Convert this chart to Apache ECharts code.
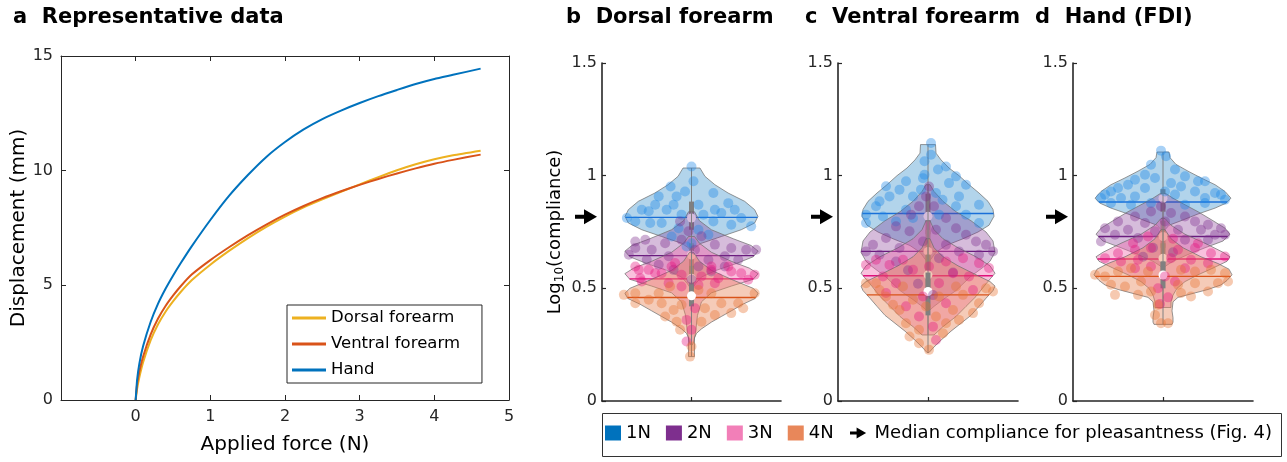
<!DOCTYPE html>
<html><head><meta charset="utf-8">
<script src="https://cdn.jsdelivr.net/npm/echarts@6/dist/echarts.min.js"></script>
<style>html,body{margin:0;padding:0;background:#fff}#c{width:1287px;height:462px}</style>
</head><body><div id="c"></div><script>
const FONT = '"DejaVu Sans", "Liberation Sans", Arial, sans-serif';

// ---------- Panel a: representative force-displacement curves ----------
const forceN    = [0, 0.02, 0.05, 0.1, 0.2, 0.3, 0.4, 0.5, 0.6, 0.75, 1.0, 1.25, 1.5, 1.75, 2.0, 2.25, 2.5, 2.75, 3.0, 3.25, 3.5, 3.75, 4.0, 4.25, 4.62];
const dorsalMm  = [0, 0.5, 1.0, 1.65, 2.6, 3.3, 3.85, 4.3, 4.7, 5.22, 5.9, 6.5, 7.05, 7.55, 8.0, 8.4, 8.75, 9.08, 9.4, 9.72, 10.02, 10.28, 10.5, 10.67, 10.87];
const ventralMm = [0, 0.7, 1.25, 1.9, 2.85, 3.55, 4.1, 4.55, 4.95, 5.47, 6.1, 6.66, 7.18, 7.65, 8.08, 8.46, 8.8, 9.1, 9.38, 9.64, 9.88, 10.1, 10.3, 10.47, 10.7];
const handMm    = [0, 0.9, 1.6, 2.35, 3.4, 4.2, 4.85, 5.42, 5.95, 6.7, 7.85, 8.9, 9.8, 10.6, 11.25, 11.8, 12.25, 12.62, 12.95, 13.25, 13.52, 13.78, 14.0, 14.18, 14.45];
const curveNames = ['Dorsal forearm', 'Ventral forearm', 'Hand'];

// ---------- Violin panels: groups ----------
const groupNames = ['1N', '2N', '3N', '4N'];
const pleasantMedian = 0.818; // median compliance for pleasantness (Fig. 4)

// violin outlines: [log10 compliance, half width]
const dorsal1N = [[1.034,8.5],[0.997,13.5],[0.96,23.5],[0.923,36.8],[0.886,53.5],[0.849,63.5],[0.819,66.8],[0.79,63.5],[0.76,50],[0.73,30],[0.70,10],[0.68,3],[0.665,1]];
const dorsal2N = [[0.84,3],[0.80,8],[0.76,20],[0.72,42],[0.69,60],[0.665,67],[0.64,62],[0.61,45],[0.58,25],[0.55,10],[0.52,4],[0.50,1]];
const dorsal3N = [[0.73,3],[0.70,8],[0.66,20],[0.62,40],[0.59,58],[0.565,67],[0.54,62],[0.51,40],[0.48,20],[0.44,10],[0.38,6],[0.30,4],[0.26,2],[0.25,1]];
const dorsal4N = [[0.66,2],[0.62,8],[0.58,20],[0.54,40],[0.50,62],[0.478,67],[0.455,64],[0.43,52],[0.40,40],[0.375,30],[0.35,20],[0.32,10],[0.30,5],[0.28,3],[0.197,3]];

const ventral1N = [[1.138,7.5],[1.10,8],[1.07,13],[1.034,21],[1.0,31],[0.96,41],[0.923,51],[0.886,60],[0.85,65],[0.82,66],[0.78,61],[0.75,50],[0.72,35],[0.69,18],[0.66,8],[0.63,3],[0.62,1]];
const ventral2N = [[0.96,2],[0.93,6],[0.886,15],[0.84,28],[0.80,43],[0.75,58],[0.71,65],[0.66,67],[0.62,62],[0.60,57],[0.55,42],[0.49,28],[0.45,15],[0.42,6],[0.40,1]];
const ventral3N = [[0.80,2],[0.76,6],[0.72,15],[0.68,30],[0.64,48],[0.60,62],[0.567,67],[0.52,58],[0.464,48],[0.42,38],[0.375,28],[0.33,15],[0.293,6]];
const ventral4N = [[0.72,2],[0.68,6],[0.64,15],[0.60,30],[0.56,48],[0.53,62],[0.51,67],[0.49,65],[0.456,58],[0.42,51],[0.38,43],[0.345,33],[0.31,23],[0.27,13],[0.235,5],[0.215,1]];

const hand1N = [[1.105,6],[1.08,7],[1.05,13],[1.02,25],[0.99,38],[0.96,52],[0.93,62],[0.90,68],[0.878,63],[0.856,52],[0.83,35],[0.80,18],[0.78,6],[0.76,2],[0.75,1]];
const hand2N = [[0.92,3],[0.90,10],[0.878,19],[0.84,35],[0.80,50],[0.767,62],[0.74,67],[0.71,60],[0.68,42],[0.65,25],[0.62,10],[0.60,3],[0.59,1]];
const hand3N = [[0.81,2],[0.78,8],[0.74,22],[0.70,42],[0.66,60],[0.64,67],[0.62,64],[0.59,50],[0.56,35],[0.53,22],[0.50,14],[0.47,10],[0.44,8],[0.415,8]];
const hand4N = [[0.76,2],[0.72,8],[0.68,20],[0.64,38],[0.61,55],[0.585,66],[0.56,69],[0.535,64],[0.515,58],[0.495,45],[0.475,28],[0.46,15],[0.44,10],[0.40,9],[0.37,10],[0.35,10],[0.34,9]];

// individual participants: [jitter offset, log10 compliance]
const dorsalPts1N = [[0,1.041],[2,0.975],[-21,0.952],[-6.5,0.93],[22,0.923],[-33,0.908],[-15,0.908],[-36.5,0.871],[-18,0.871],[7,0.871],[37,0.878],[-50,0.849],[-43,0.842],[-25,0.849],[23.5,0.849],[43.5,0.849],[-10,0.827],[12,0.827],[30,0.834],[50,0.812],[-56.5,0.797],[-41.5,0.79],[-30,0.79],[22,0.797],[40,0.782],[60,0.775],[-65,0.812],[7,0.76],[-13,0.767],[-20,0.73],[17,0.738],[0,0.70],[-5,0.686]];
const dorsalPts2N = [[-46.5,0.716],[-56.5,0.679],[-40,0.671],[-26.5,0.70],[-63,0.649],[-45,0.627],[-23,0.642],[23.5,0.694],[40,0.679],[55,0.671],[65,0.671],[33.5,0.642],[17,0.627],[-10,0.716],[10,0.731],[-33,0.605],[47,0.627],[7,0.597],[-18,0.582],[33.5,0.597],[-56.5,0.708],[-3,0.753],[3.5,0.671],[-11.5,0.797],[20,0.575],[0,0.539]];
const dorsalPts3N = [[-56.5,0.597],[-43,0.582],[-30,0.567],[-20,0.597],[-51.5,0.545],[20,0.582],[37,0.597],[50,0.567],[63.5,0.56],[27,0.545],[-10,0.56],[7,0.515],[-53,0.582],[-36.5,0.567],[-16.5,0.612],[20,0.597],[40,0.575],[10,0.553],[57,0.538],[-23,0.523],[-10,0.508],[23.5,0.523],[3.5,0.412],[-5,0.36],[0,0.316],[-5,0.264],[-50,0.53]];
const dorsalPts4N = [[-68,0.471],[-56.5,0.478],[-43,0.449],[-30,0.434],[-18,0.404],[-10,0.427],[-26.5,0.375],[-15,0.352],[-11.5,0.316],[20,0.478],[30,0.434],[47,0.434],[63.5,0.478],[52,0.412],[40,0.39],[23.5,0.382],[10,0.352],[13.5,0.412],[-33,0.478],[-56.5,0.434],[-1.5,0.197],[0,0.242],[7,0.493],[-21.5,0.508]];

const ventralPts1N = [[3,1.145],[3,1.093],[-3.5,1.064],[10,1.027],[18,1.041],[-3.5,1.004],[-22,0.975],[28,0.997],[-42,0.953],[-28.5,0.938],[21,0.967],[38,0.96],[-38.5,0.908],[-15,0.908],[8,0.923],[31,0.908],[14.5,0.893],[-48.5,0.886],[51,0.871],[-52,0.864],[-62,0.827],[-45,0.819],[-22,0.849],[28,0.864],[38,0.827],[51,0.79],[-62,0.79],[-32,0.797],[-5,0.989],[-7,0.938],[11,0.827],[-15,0.812]];
const ventralPts2N = [[1,0.952],[-2,0.908],[-9,0.864],[6,0.864],[-17,0.827],[18,0.812],[-32,0.775],[-18.5,0.753],[8,0.76],[28,0.767],[38,0.738],[48,0.708],[58,0.693],[-42,0.723],[-55,0.693],[-62,0.664],[-48.5,0.649],[-28.5,0.679],[18,0.693],[-5,0.708],[31,0.664],[51,0.649],[65,0.664],[-32,0.619],[11,0.634],[-20,0.58],[25,0.57],[-10,0.52],[5,0.47]];
const ventralPts3N = [[-52,0.627],[-62,0.604],[-38.5,0.604],[-25,0.627],[18,0.619],[35,0.634],[51,0.612],[61,0.59],[-15,0.582],[1,0.597],[-45,0.553],[25,0.567],[41,0.553],[-32,0.523],[11,0.523],[-5,0.464],[-22,0.42],[18,0.434],[-9,0.375],[5,0.33],[8,0.271],[-42,0.479],[45,0.493]];
const ventralPts4N = [[-62,0.523],[-52,0.523],[-25,0.508],[28,0.508],[58,0.5],[65,0.486],[-42,0.464],[-15,0.449],[11,0.464],[35,0.471],[51,0.434],[-28.5,0.404],[-2,0.419],[25,0.404],[45,0.39],[-22,0.345],[-9,0.316],[18,0.345],[31,0.36],[-18.5,0.286],[-9,0.256],[1,0.227],[15,0.301],[-35,0.427],[8,0.375],[-48.5,0.493]];

const handPts1N = [[-2,1.111],[3,1.086],[-12,1.049],[12,1.027],[-18,1.004],[22,0.997],[-28,0.982],[-8,0.99],[8,0.967],[-35,0.96],[35,0.975],[42,0.975],[-18,0.945],[18,0.952],[-45,0.945],[32,0.93],[52,0.923],[58,0.916],[-52,0.93],[-58,0.916],[-62,0.901],[-42,0.901],[-28,0.908],[12,0.916],[42,0.901],[62,0.893],[-52,0.879],[-32,0.871],[-12,0.879],[22,0.871],[42,0.879],[2,0.93]];
const handPts2N = [[-2,0.864],[-12,0.841],[8,0.834],[-28,0.819],[22,0.819],[32,0.797],[-45,0.797],[-18,0.79],[2,0.797],[45,0.782],[58,0.767],[-58,0.767],[-35,0.76],[15,0.76],[38,0.76],[-48,0.738],[-8,0.753],[52,0.738],[62,0.738],[-62,0.708],[-25,0.723],[22,0.716],[45,0.716],[-10,0.68],[10,0.66],[-20,0.64]];
const handPts3N = [[-58,0.634],[-45,0.656],[-28,0.671],[-12,0.679],[15,0.671],[32,0.679],[48,0.656],[62,0.641],[-42,0.619],[-25,0.627],[8,0.634],[28,0.627],[45,0.612],[-12,0.597],[22,0.589],[-28,0.589],[2,0.553],[12,0.53],[-5,0.5],[5,0.46],[-3,0.43],[-15,0.73],[10,0.72],[-30,0.70],[35,0.70]];
const handPts4N = [[-68,0.56],[-58,0.553],[-45,0.575],[-32,0.589],[-15,0.575],[18,0.582],[32,0.575],[48,0.582],[62,0.567],[65,0.53],[-52,0.516],[-38,0.508],[-22,0.53],[15,0.516],[32,0.523],[55,0.523],[-48,0.471],[-25,0.471],[-12,0.486],[18,0.479],[28,0.464],[45,0.486],[-8,0.382],[-2,0.345],[5,0.345],[-5,0.427]];

// summary statistics per group (1N..4N)
const dorsalMean   = [0.815, 0.645, 0.542, 0.459];
const dorsalMedian = [0.812, 0.648, 0.545, 0.467];
const dorsalQ1     = [0.76, 0.58, 0.49, 0.42];
const dorsalQ3     = [0.885, 0.70, 0.60, 0.52];
const ventralMean   = [0.832, 0.664, 0.556, 0.471];
const ventralMedian = [0.82, 0.664, 0.56, 0.486];
const ventralQ1     = [0.74, 0.58, 0.48, 0.38];
const ventralQ3     = [0.92, 0.76, 0.65, 0.57];
const handMean   = [0.883, 0.73, 0.63, 0.553];
const handMedian = [0.90, 0.73, 0.634, 0.559];
const handQ1     = [0.84, 0.68, 0.58, 0.50];
const handQ3     = [0.94, 0.80, 0.70, 0.62];

const panelTitles = ['a  Representative data', 'b  Dorsal forearm', 'c  Ventral forearm', 'd  Hand (FDI)'];
const arrowLegendName = 'Median compliance for pleasantness (Fig. 4)';

// ---------- styling ----------
const AXC = '#262626';
const GREY = '#808080';
const legendColors = ['#0072BD', '#7E2F8E', '#F27FB8', '#E8875A'];
const fillColors = ['rgba(0,114,189,0.30)', 'rgba(126,47,142,0.32)', 'rgba(240,100,170,0.40)', 'rgba(232,130,85,0.42)'];
const pointColors = ['#1a86e8', '#7E2F8E', '#E6147F', '#E8702F'];
const meanColors = ['#1a6fd8', '#6a1b7e', '#E0107A', '#D95319'];
const curveColors = ['#EDB120', '#D95319', '#0072BD'];
const arrowPath = 'path://M0,5.5 L9,5.5 L9,0 L22,7.5 L9,15 L9,9.5 L0,9.5 Z';

const panels = [
  {profiles: [dorsal1N, dorsal2N, dorsal3N, dorsal4N], points: [dorsalPts1N, dorsalPts2N, dorsalPts3N, dorsalPts4N], mean: dorsalMean, median: dorsalMedian, q1: dorsalQ1, q3: dorsalQ3},
  {profiles: [ventral1N, ventral2N, ventral3N, ventral4N], points: [ventralPts1N, ventralPts2N, ventralPts3N, ventralPts4N], mean: ventralMean, median: ventralMedian, q1: ventralQ1, q3: ventralQ3},
  {profiles: [hand1N, hand2N, hand3N, hand4N], points: [handPts1N, handPts2N, handPts3N, handPts4N], mean: handMean, median: handMedian, q1: handQ1, q3: handQ3}
];

function hwAt(prof, v) {
  for (let i = 0; i < prof.length - 1; i++) {
    const a = prof[i], b = prof[i + 1];
    if (v <= a[0] && v >= b[0]) {
      const t = (a[0] - v) / (a[0] - b[0]);
      return a[1] + t * (b[1] - a[1]);
    }
  }
  return 0;
}

const grids = [
  {left: 61, top: 56, width: 448, height: 344},
  {left: 602, top: 63, width: 179, height: 338},
  {left: 838, top: 63, width: 180, height: 338},
  {left: 1073, top: 63, width: 180, height: 338}
];

const xAxes = [
  {gridIndex: 0, type: 'value', min: -1, max: 5, interval: 1, position: 'bottom',
   axisLine: {show: true, onZero: false, lineStyle: {color: AXC, width: 1}},
   axisTick: {inside: true, length: 5, lineStyle: {color: AXC}},
   axisLabel: {color: AXC, fontSize: 16, fontFamily: FONT, margin: 9, formatter: v => v < 0 ? '' : String(v)},
   splitLine: {show: false},
   name: 'Applied force (N)', nameLocation: 'middle', nameGap: 35,
   nameTextStyle: {color: '#000', fontSize: 20, fontFamily: FONT}},
  {gridIndex: 0, type: 'value', min: -1, max: 5, interval: 1, position: 'top',
   axisLine: {show: true, onZero: false, lineStyle: {color: AXC, width: 1}},
   axisTick: {inside: true, length: 5, lineStyle: {color: AXC}},
   axisLabel: {show: false}, splitLine: {show: false}}
];
const yAxes = [
  {gridIndex: 0, type: 'value', min: 0, max: 15, interval: 5, position: 'left',
   axisLine: {show: true, onZero: false, lineStyle: {color: AXC, width: 1}},
   axisTick: {inside: true, length: 5, lineStyle: {color: AXC}},
   axisLabel: {color: AXC, fontSize: 16, fontFamily: FONT, margin: 8},
   splitLine: {show: false},
   name: 'Displacement (mm)', nameLocation: 'middle', nameGap: 31, nameRotate: 90,
   nameTextStyle: {color: '#000', fontSize: 20, fontFamily: FONT}},
  {gridIndex: 0, type: 'value', min: 0, max: 15, interval: 5, position: 'right',
   axisLine: {show: true, onZero: false, lineStyle: {color: AXC, width: 1}},
   axisTick: {inside: true, length: 5, lineStyle: {color: AXC}},
   axisLabel: {show: false}, splitLine: {show: false}}
];
for (let i = 1; i <= 3; i++) {
  xAxes.push({gridIndex: i, type: 'value', min: -90, max: 90,
    axisLine: {show: true, onZero: false, lineStyle: {color: AXC, width: 1.6}},
    axisTick: {show: true, inside: true, length: 4, customValues: [0], lineStyle: {color: AXC, width: 1.2}},
    axisLabel: {show: false}, splitLine: {show: false}});
  const y = {gridIndex: i, type: 'value', min: 0, max: 1.5, interval: 0.5,
    axisLine: {show: true, onZero: false, lineStyle: {color: AXC, width: 1.6}},
    axisTick: {inside: true, length: 4, lineStyle: {color: AXC, width: 1.2}},
    axisLabel: {color: AXC, fontSize: 16, fontFamily: FONT, margin: 5},
    splitLine: {show: false}};
  if (i === 1) {
    y.name = '{n|Log}{s|10}{n|(compliance)}';
    y.nameLocation = 'middle';
    y.nameRotate = 90;
    y.nameGap = 36;
    y.nameTextStyle = {rich: {
      n: {fontSize: 18, fontFamily: FONT, color: '#000', lineHeight: 22},
      s: {fontSize: 12, fontFamily: FONT, color: '#000', lineHeight: 13, verticalAlign: 'bottom'}
    }};
  }
  yAxes.push(y);
}

const series = [];
[dorsalMm, ventralMm, handMm].forEach((ys, k) => {
  series.push({type: 'line', name: curveNames[k], xAxisIndex: 0, yAxisIndex: 0,
    data: forceN.map((x, i) => [x, ys[i]]), showSymbol: false, symbol: 'none',
    smooth: 0.2, silent: true,
    lineStyle: {color: curveColors[k], width: 2}, itemStyle: {color: curveColors[k]}});
});

panels.forEach((p, pi) => {
  const ax = pi + 2;
  for (let g = 0; g < 4; g++) {
    const prof = p.profiles[g];
    const meanV = p.mean[g];
    series.push({type: 'custom', name: groupNames[g], xAxisIndex: ax, yAxisIndex: ax, silent: true, clip: false,
      data: [[0, meanV]],
      renderItem: (params, api) => {
        const right = prof.map(d => api.coord([d[1], d[0]]));
        const left = prof.slice().reverse().map(d => api.coord([-d[1], d[0]]));
        const hw = hwAt(prof, meanV);
        const a = api.coord([-hw, meanV]), b = api.coord([hw, meanV]);
        return {type: 'group', children: [
          {type: 'polygon', shape: {points: right.concat(left)}, style: {fill: fillColors[g], stroke: 'rgba(110,110,110,0.8)', lineWidth: 0.9}},
          {type: 'line', shape: {x1: a[0], y1: a[1], x2: b[0], y2: b[1]}, style: {stroke: meanColors[g], lineWidth: 1.4}}
        ]};
      }});
    series.push({type: 'scatter', name: groupNames[g], xAxisIndex: ax, yAxisIndex: ax, silent: true,
      data: p.points[g], symbolSize: 10, itemStyle: {color: pointColors[g], opacity: 0.38}});
    series.push({type: 'custom', name: groupNames[g], xAxisIndex: ax, yAxisIndex: ax, silent: true, clip: false,
      data: [[0, p.median[g]]],
      renderItem: (params, api) => {
        const top = api.coord([0, prof[0][0]]), bot = api.coord([0, prof[prof.length - 1][0]]);
        const q3 = api.coord([0, p.q3[g]]), q1 = api.coord([0, p.q1[g]]);
        const m = api.coord([0, p.median[g]]);
        return {type: 'group', children: [
          {type: 'line', shape: {x1: top[0], y1: top[1], x2: bot[0], y2: bot[1]}, style: {stroke: GREY, lineWidth: 1}},
          {type: 'rect', shape: {x: q3[0] - 2.5, y: q3[1], width: 5, height: q1[1] - q3[1]}, style: {fill: GREY}},
          {type: 'circle', shape: {cx: m[0], cy: m[1], r: 4.5}, style: {fill: '#ffffff'}}
        ]};
      }});
  }
  series.push({type: 'scatter', name: arrowLegendName, xAxisIndex: ax, yAxisIndex: ax, silent: true, clip: false,
    data: [[-90, pleasantMedian]], symbol: arrowPath, symbolSize: [22, 15], symbolOffset: [-16, 0],
    itemStyle: {color: '#000', opacity: 1}, z: 5});
});

const option = {
  animation: false,
  backgroundColor: '#fff',
  textStyle: {fontFamily: FONT},
  title: [
    {text: panelTitles[0], left: 13, top: 7},
    {text: panelTitles[1], left: 566, top: 7},
    {text: panelTitles[2], left: 805, top: 7},
    {text: panelTitles[3], left: 1035, top: 7}
  ].map(t => Object.assign(t, {padding: 0, textStyle: {fontSize: 21, fontWeight: 'bold', color: '#000', fontFamily: FONT}})),
  grid: grids,
  xAxis: xAxes,
  yAxis: yAxes,
  legend: [
    {data: curveNames.map((n, k) => ({name: n, icon: 'rect', itemStyle: {color: curveColors[k]}})),
     orient: 'vertical', left: 287, top: 305, itemWidth: 34, itemHeight: 3, itemGap: 8,
     padding: [4, 22, 4, 5], borderColor: AXC, borderWidth: 1, selectedMode: false,
     textStyle: {fontSize: 16.5, fontFamily: FONT, color: '#000', lineHeight: 18}},
    {data: groupNames.map((n, g) => ({name: n, icon: 'rect', itemStyle: {color: legendColors[g], opacity: 1}})),
     orient: 'horizontal', left: 605, top: 424, itemWidth: 16, itemHeight: 15, itemGap: 15,
     padding: 0, selectedMode: false,
     textStyle: {fontSize: 18, fontFamily: FONT, color: '#000'}},
    {data: [{name: arrowLegendName, icon: arrowPath, itemStyle: {color: '#000'}}],
     left: 850, top: 424, itemWidth: 23, itemHeight: 11, padding: 0, selectedMode: false,
     textStyle: {fontSize: 18, fontFamily: FONT, color: '#000'}}
  ],
  graphic: [
    {type: 'rect', left: 600, top: 411, shape: {width: 679, height: 43}, style: {fill: 'none', stroke: '#333', lineWidth: 1}, silent: true}
  ],
  series: series
};

const chart = echarts.init(document.getElementById('c'), null, {renderer: 'canvas'});
chart.setOption(option);
</script></body></html>
